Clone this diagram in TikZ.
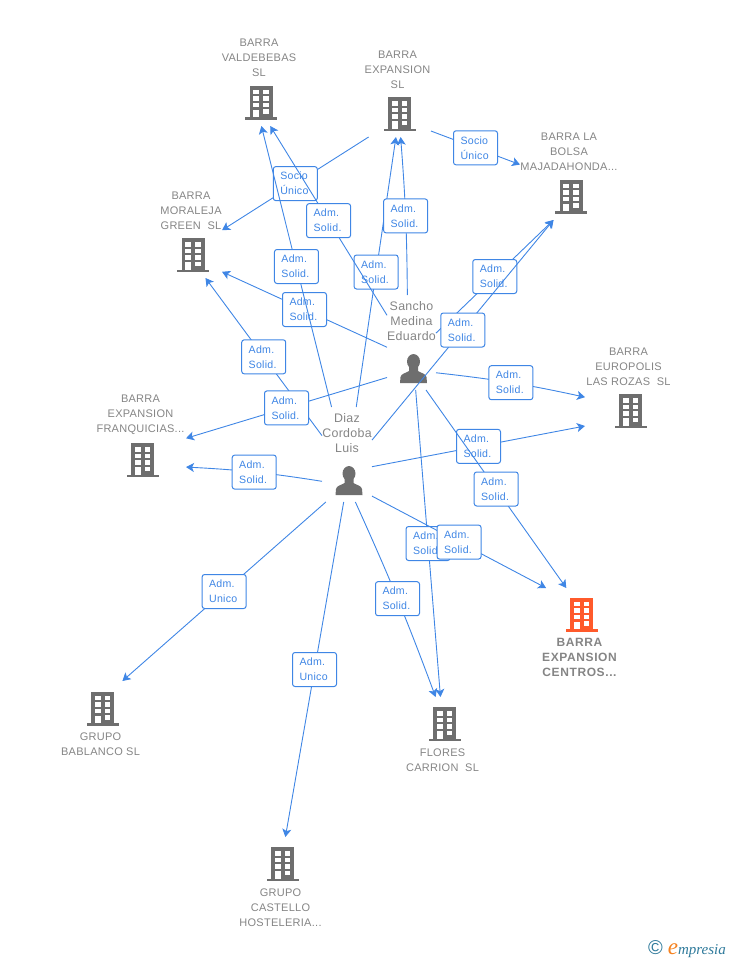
\documentclass[tikz,border=0pt]{standalone}
\usepackage{fontspec}
\setmainfont[LetterSpace=2.5]{Liberation Sans}
\newfontfamily\logofont{Liberation Serif}
\usetikzlibrary{arrows.meta}
\definecolor{linkblue}{HTML}{3F86E5}
\definecolor{namegray}{HTML}{858585}
\definecolor{icongray}{HTML}{6E6E6E}
\definecolor{iconred}{HTML}{FF5A2B}
\definecolor{logoteal}{HTML}{2F7A9B}
\definecolor{logoorange}{HTML}{F58220}
\tikzstyle{company} = [rectangle, inner sep=0pt, outer sep=0pt, align=center, text=namegray,
    font=\fontsize{11}{15}\selectfont]
\tikzstyle{companyup} = [company, text depth=3pt]
\tikzstyle{companydown} = [company, font=\fontsize{11}{15}\selectfont]
\tikzstyle{person} = [rectangle, inner sep=0pt, outer sep=0pt, align=center, text=namegray,
    font=\fontsize{12.4}{15}\selectfont]
\tikzstyle{tag} = [rectangle, draw=linkblue, fill=white, line width=1pt, rounded corners=2.5pt,
    text=linkblue, minimum width=44pt, minimum height=34pt, text width=30pt, inner xsep=7pt,
    inner ysep=0pt, align=left, font=\fontsize{10.6}{15}\selectfont]
\tikzstyle{line} = [draw=linkblue, line width=0.9pt, -{Stealth[length=8pt,width=9pt,inset=2pt]}]
\newcommand{\buildingicon}[1]{\tikz[x=1pt,y=1pt,baseline=0pt]{
    \path (-4,0) rectangle (32,41);
    \fill [#1] (0,0) rectangle (32,2.8);
    \fill [#1] (4.5,0) rectangle (27.5,34);
    \foreach \col in {8.2,18} {
        \foreach \row in {25.5,19,12.5} {
            \fill [white] (\col,\row) rectangle +(5.8,4.8);
        }
    }
    \fill [white] (8.2,2.8) rectangle (14,10);
    \fill [white] (18,6) rectangle (23.8,10.5);
}}
\newcommand{\personicon}{\tikz[x=1pt,y=1pt,baseline=0pt]{
    \path (-4,0) rectangle (27,29);
    \fill [icongray] (13.5,21.5) ellipse (6.5 and 7.5);
    \fill [icongray] (0,0) -- (0.5,6) .. controls (1,9.5) and (6,10) .. (9,12)
        -- (9,16) -- (18,16) -- (18,12) .. controls (21,10) and (26,9.5) .. (26.5,6) -- (27,0) -- cycle;
}}
\newcommand{\admsolid}{Adm.\\Solid.}
\newcommand{\sociounico}{Socio\\Único}
\begin{document}
\begin{tikzpicture}[x=1pt, y=-1pt]
    \useasboundingbox (0,0) rectangle (728,960);
    % Place nodes
    \node [companyup, minimum width=76pt, minimum height=90pt] (valdebebas) at (259,81)
        {BARRA\\VALDEBEBAS\\SL\\[1pt]\buildingicon{icongray}};
    \node [companyup, minimum width=67pt, minimum height=89pt] (expansion) at (397.5,92.5)
        {BARRA\\EXPANSION\\SL\\[1pt]\buildingicon{icongray}};
    \node [companyup, minimum width=98pt, minimum height=90pt] (bolsa) at (569,175)
        {BARRA LA\\BOLSA\\MAJADAHONDA...\\[1pt]\buildingicon{icongray}};
    \node [companyup, minimum width=62pt, minimum height=89pt] (moraleja) at (191,233.5)
        {BARRA\\MORALEJA\\GREEN\ \ SL\\[1pt]\buildingicon{icongray}};
    \node [companyup, minimum width=91pt, minimum height=89pt] (franquicias) at (140.5,437.5)
        {BARRA\\EXPANSION\\FRANQUICIAS...\\[1pt]\buildingicon{icongray}};
    \node [companyup, minimum width=87pt, minimum height=89pt] (europolis) at (628.5,389.5)
        {BARRA\\EUROPOLIS\\LAS ROZAS\ \ SL\\[1pt]\buildingicon{icongray}};
    \node [companydown, minimum width=75pt, minimum height=92pt, font=\fontsize{12}{15}\selectfont\bfseries\addfontfeature{LetterSpace=5}] (centros) at (579.5,634)
        {\buildingicon{iconred}\\BARRA\\EXPANSION\\CENTROS...};
    \node [companydown, minimum width=75pt, minimum height=78pt] (flores) at (442.5,736)
        {\buildingicon{icongray}\\FLORES\\CARRION\ \ SL};
    \node [companydown, minimum width=81pt, minimum height=79pt] (bablanco) at (100.5,720.5)
        {\buildingicon{icongray}\\GRUPO\\BABLANCO SL};
    \node [companydown, minimum width=85pt, minimum height=93pt] (castello) at (280.5,883.5)
        {\buildingicon{icongray}\\GRUPO\\CASTELLO\\HOSTELERIA...};
    \node [person, minimum width=49pt, minimum height=95pt] (sancho) at (411.5,342.5)
        {Sancho\\Medina\\Eduardo\\[12pt]\personicon};
    \node [person, minimum width=50pt, minimum height=95pt] (diaz) at (347,454.5)
        {Diaz\\Cordoba\\Luis\\[12pt]\personicon};
    \node [inner sep=0pt, anchor=east] (logo) at (726,949)
        {\textcolor{logoteal}{\fontsize{20}{20}\selectfont ©}\hspace{5pt}{\logofont\itshape\fontsize{23}{23}\selectfont\textcolor{logoorange}{e}\fontsize{15}{15}\selectfont\textcolor{logoteal}{mpresia}}};
    % Draw edges
    \path [line] (expansion.-123.5) -- node [tag] (sociomoraleja) {\sociounico} (moraleja.6.4);
    \path [line] (expansion.-49) -- node [tag] (sociobolsa) {\sociounico} (bolsa.168.5);
    \path [line] (diaz.79.3) -- node [tag] (diazexpansion) {\admsolid} (expansion.-92);
    \path [line] (sancho.132.8) -- node [tag] (sanchovaldebebas) {\admsolid} (valdebebas.-76.3);
    \path [line] (sancho.95.4) to [bend right=2] node [tag] (sanchoexpansion) {\admsolid} (expansion.-86.8);
    \path [line] (sancho.-169.6) -- node [tag] (sanchomoraleja) {\admsolid} (moraleja.-51.2);
    \path [line] (diaz.108.6) -- node [tag] (diazvaldebebas) {\admsolid} (valdebebas.-87.5);
    \path [line] (diaz.143.5) -- node [tag] (diazmoraleja) {\admsolid} (moraleja.-72.5);
    \path [line] (sancho.-125.4) -- node [tag] (sanchofranquicias) {\admsolid} (franquicias.-1.9);
    \path [line] (diaz.-133.3) to [bend right=3] node [tag] (diazfranquicias) {\admsolid} (franquicias.-33);
    \path [line] (sancho.21.2) -- node [tag] (sanchobolsa) {\admsolid} (bolsa.-109.6);
    \path [line] (diaz.30.1) -- node [tag] (diazbolsa) {\admsolid} (bolsa.-109.6);
    \path [line] (sancho.-51.2) to [bend left=3] node [tag] (sanchoeuropolis) {\admsolid} (europolis.-170);
    \path [line] (diaz.-26.6) -- node [tag] (diazeuropolis) {\admsolid} (europolis.-140.1);
    \path [line] (sancho.-73.5) -- node [tag] (sanchocentros) {\admsolid} (centros.106.4);
    \path [line] (sancho.-85.8) -- node [tag] (sanchoflores) {\admsolid} (flores.93.7);
    \path [line] (diaz.-59) -- node [tag] (diazcentros) {\admsolid} (centros.126);
    \path [line] (diaz.-80.4) to [bend left=2] node [tag] (diazflores) {\admsolid} (flores.100.9);
    \path [line] (diaz.-114.9) -- node [tag] (diazbablanco) {Adm.\\Unico} (bablanco.61.4);
    \path [line] (diaz.-94.8) -- node [tag] (diazcastello) {Adm.\\Unico} (castello.84.5);
\end{tikzpicture}
\end{document}
